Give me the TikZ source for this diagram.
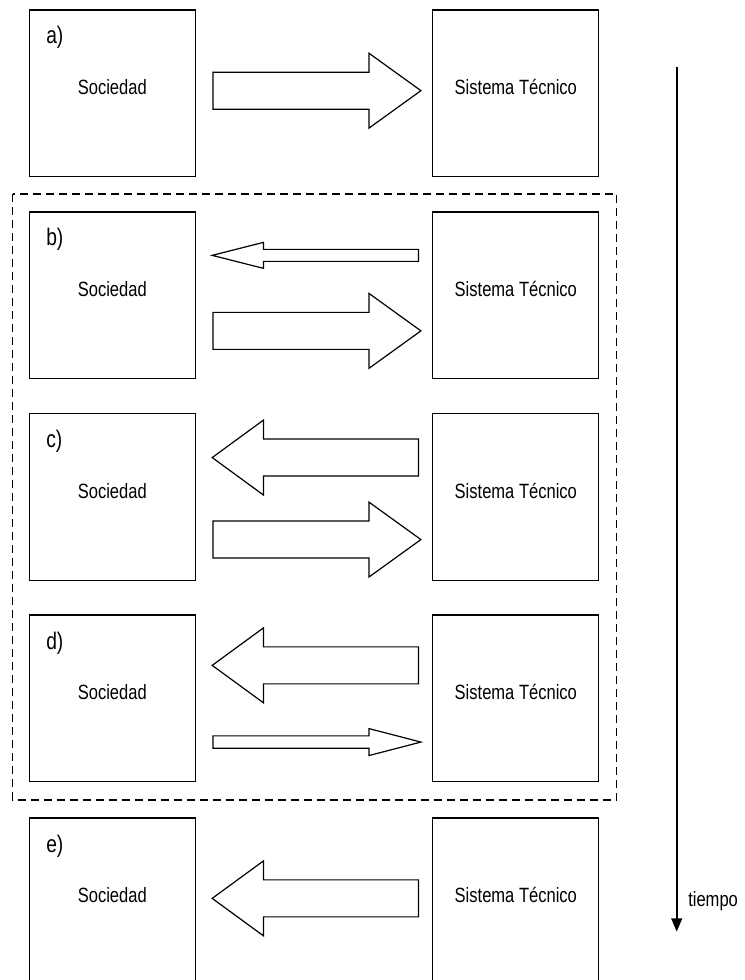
\documentclass[tikz,border=0pt]{standalone}
\usepackage{fontspec}
\setmainfont[FakeStretch=0.8]{Liberation Sans}
\usetikzlibrary{calc,arrows.meta}

\begin{document}
\begin{tikzpicture}[x=0.75pt, y=-0.75pt,
	caja/.style={draw=black, line width=0.9pt, minimum width=124.5pt, minimum height=125pt, inner sep=0pt, font=\fontsize{15.5}{18}\selectfont, text height=11.1pt, text depth=8.6pt},
	etiq/.style={anchor=base west, inner sep=0pt, font=\fontsize{18}{21}\selectfont},
	flecha/.style={draw=black, line width=0.9pt, line join=miter}]

		\useasboundingbox ( 0, 0 ) rectangle ( 744, 980 );

		\draw[black, line width=0.9pt, dash pattern=on 6pt off 3.75pt] ( 12.7, 194 ) rectangle ( 616.7, 800 );

		\node[caja, at={( 112.3, 93.3 )}] (soc-a) {Sociedad};
		\node[caja, at={( 515.8, 93.3 )}] (tec-a) {Sistema Técnico};
		\node[caja, at={( 112.3, 295.3 )}] (soc-b) {Sociedad};
		\node[caja, at={( 515.8, 295.3 )}] (tec-b) {Sistema Técnico};
		\node[caja, at={( 112.3, 496.8 )}] (soc-c) {Sociedad};
		\node[caja, at={( 515.8, 496.8 )}] (tec-c) {Sistema Técnico};
		\node[caja, at={( 112.3, 698.3 )}] (soc-d) {Sociedad};
		\node[caja, at={( 515.8, 698.3 )}] (tec-d) {Sistema Técnico};
		\node[caja, at={( 112.3, 901.3 )}] (soc-e) {Sociedad};
		\node[caja, at={( 515.8, 901.3 )}] (tec-e) {Sistema Técnico};

		\node[etiq, at={( 46, 44 )}] (lab-a) {a)};
		\node[etiq, at={( 46, 246 )}] (lab-b) {b)};
		\node[etiq, at={( 46, 447.5 )}] (lab-c) {c)};
		\node[etiq, at={( 46, 649 )}] (lab-d) {d)};
		\node[etiq, at={( 46, 852 )}] (lab-e) {e)};

		\draw[flecha] (soc-a.north east) ++( 17, 81.3 ) -- ++( 0, -18.5 ) -- ++( 156, 0 ) -- ++( 0, -19 ) -- ++( 52, 37.5 ) -- ++( -52, 37.5 ) -- ++( 0, -19 ) -- ++( -156, 0 ) -- cycle;

		\draw[flecha] (tec-b.north west) ++( -13.7, 44 ) -- ++( 0, -6 ) -- ++( -155, 0 ) -- ++( 0, -7 ) -- ++( -51.3, 13 ) -- ++( 51.3, 13 ) -- ++( 0, -7 ) -- ++( 155, 0 ) -- cycle;
		\draw[flecha] (soc-b.north east) ++( 17, 119.5 ) -- ++( 0, -18.5 ) -- ++( 156, 0 ) -- ++( 0, -19 ) -- ++( 52, 37.5 ) -- ++( -52, 37.5 ) -- ++( 0, -19 ) -- ++( -156, 0 ) -- cycle;

		\draw[flecha] (tec-c.north west) ++( -13.7, 44.7 ) -- ++( 0, -18.5 ) -- ++( -155, 0 ) -- ++( 0, -19 ) -- ++( -51.3, 37.5 ) -- ++( 51.3, 37.5 ) -- ++( 0, -19 ) -- ++( 155, 0 ) -- cycle;
		\draw[flecha] (soc-c.north east) ++( 17, 126.7 ) -- ++( 0, -18.5 ) -- ++( 156, 0 ) -- ++( 0, -19 ) -- ++( 52, 37.5 ) -- ++( -52, 37.5 ) -- ++( 0, -19 ) -- ++( -156, 0 ) -- cycle;

		\draw[flecha] (tec-d.north west) ++( -13.7, 51 ) -- ++( 0, -18.5 ) -- ++( -155, 0 ) -- ++( 0, -19 ) -- ++( -51.3, 37.5 ) -- ++( 51.3, 37.5 ) -- ++( 0, -19 ) -- ++( 155, 0 ) -- cycle;
		\draw[flecha] (soc-d.north east) ++( 17, 127.7 ) -- ++( 0, -6.2 ) -- ++( 156, 0 ) -- ++( 0, -7.3 ) -- ++( 52, 13.5 ) -- ++( -52, 13.5 ) -- ++( 0, -7.3 ) -- ++( -156, 0 ) -- cycle;

		\draw[flecha] (tec-e.north west) ++( -13.7, 81 ) -- ++( 0, -18.5 ) -- ++( -155, 0 ) -- ++( 0, -19 ) -- ++( -51.3, 37.5 ) -- ++( 51.3, 37.5 ) -- ++( 0, -19 ) -- ++( 155, 0 ) -- cycle;

		\coordinate (t0) at ( 676.7, 67.3 );
		\coordinate (t1) at ( 676.7, 931.7 );
		\draw[black, line width=1.6pt, -{Triangle[length=10pt, width=8pt]}] (t0) -- (t1);
		\node[anchor=base west, inner sep=0pt, font=\fontsize{15.5}{18}\selectfont, at={( 688, 906 )}] (tiempo) {tiempo};

	\end{tikzpicture}
\end{document}
